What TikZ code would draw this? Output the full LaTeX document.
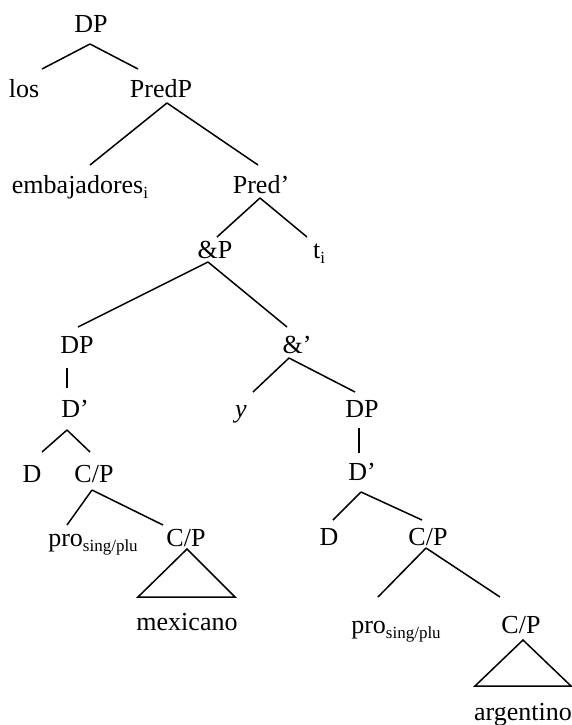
\documentclass[tikz,border=0pt]{standalone}
\usepackage{fontspec}
\setmainfont{Liberation Serif}
\newcommand\lsub[1]{\raisebox{-0.2em}{\fontsize{17}{19}\selectfont #1}}
\newcommand\tedge[6]{\draw ([shift={(#2,#3)}]#1.base) -- ([shift={(#5,#6)}]#4.base);}
\begin{document}
\begin{tikzpicture}[x=1pt,y=-1pt,line width=1.5pt,
  lab/.style={anchor=base,inner sep=0pt,font=\fontsize{26}{31}\selectfont}]
\useasboundingbox (0,0) rectangle (572,725);
\node[lab] (dp1) at (91,33) {DP};
\node[lab] (los) at (24,97) {los};
\node[lab] (predp) at (161,97) {PredP};
\node[lab] (emb) at (80,193) {embajadores\lsub{i}};
\node[lab] (predbar) at (261,193) {Pred’};
\node[lab] (andp) at (215,258) {\&P};
\node[lab] (ti) at (319,258) {t\lsub{i}};
\node[lab] (dp2) at (77,353) {DP};
\node[lab] (andbar) at (297,353) {\&’};
\node[lab] (dbar1) at (75,417) {D’};
\node[lab] (y) at (241,417) {\textit{y}};
\node[lab] (dp3) at (362,417) {DP};
\node[lab] (d1) at (32,482) {D};
\node[lab] (cp1) at (94,482) {C/P};
\node[lab] (pro1) at (93,546) {pro\lsub{sing/plu}};
\node[lab] (cp2) at (186,546) {C/P};
\node[lab] (mex) at (187,630) {mexicano};
\node[lab] (dbar2) at (362,480) {D’};
\node[lab] (d2) at (329,545) {D};
\node[lab] (cp3) at (428,545) {C/P};
\node[lab] (pro2) at (396,633) {pro\lsub{sing/plu}};
\node[lab] (cp4) at (521,633) {C/P};
\node[lab] (arg) at (523,720) {argentino};
\tedge{dp1}{-1}{11}{los}{18}{-28}
\tedge{dp1}{-1}{11}{predp}{-23}{-28}
\tedge{predp}{6}{6}{emb}{10}{-28}
\tedge{predp}{6}{6}{predbar}{-3}{-28}
\tedge{predbar}{-1}{5}{andp}{2}{-21}
\tedge{predbar}{-1}{5}{ti}{-12}{-21}
\tedge{andp}{-7}{4}{dp2}{1}{-26}
\tedge{andp}{-7}{4}{andbar}{-10}{-26}
\tedge{dp2}{-10}{15}{dbar1}{-8}{-29}
\tedge{andbar}{-8}{5}{y}{12}{-25}
\tedge{andbar}{-8}{5}{dp3}{-7}{-25}
\tedge{dbar1}{-8}{13}{d1}{10}{-30}
\tedge{dbar1}{-8}{13}{cp1}{-4}{-30}
\tedge{cp1}{-2}{8}{pro1}{-26}{-21}
\tedge{cp1}{-2}{8}{cp2}{-23}{-21}
\draw[line join=miter] ([shift={(1,3)}]cp2.base) -- ([shift={(-48,51)}]cp2.base) -- ([shift={(49,51)}]cp2.base) -- cycle;
\tedge{dp3}{-3}{11}{dbar2}{-3}{-27}
\tedge{dbar2}{-1}{12}{d2}{4}{-25}
\tedge{dbar2}{-1}{12}{cp3}{-6}{-25}
\tedge{cp3}{-2}{3}{pro2}{-18}{-36}
\tedge{cp3}{-2}{3}{cp4}{-21}{-36}
\draw[line join=miter] ([shift={(2,7)}]cp4.base) -- ([shift={(-46,53)}]cp4.base) -- ([shift={(50,53)}]cp4.base) -- cycle;
\end{tikzpicture}
\end{document}
